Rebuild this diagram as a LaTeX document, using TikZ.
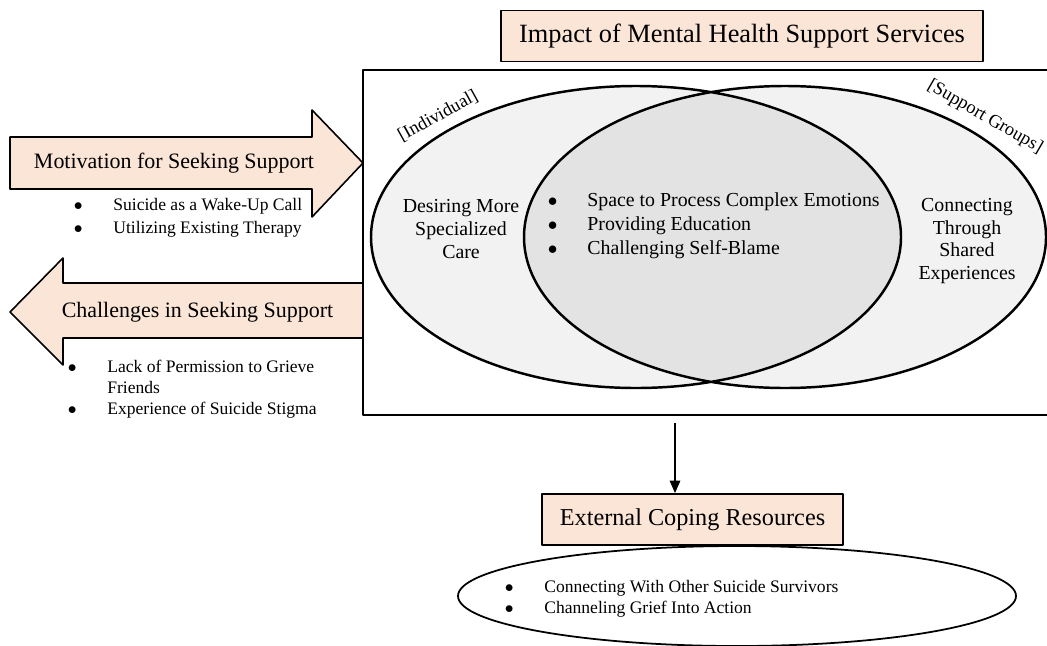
\documentclass[tikz,border=0pt]{standalone}
\usepackage{fontspec}
\setmainfont{Liberation Serif}
\usetikzlibrary{arrows.meta}
\definecolor{cam}{HTML}{FBE5D6}
\definecolor{xam}{HTML}{F2F2F2}
\definecolor{xamdam}{HTML}{E3E3E3}
\newcommand{\muc}[1]{\makebox[0.79cm][l]{$\bullet$}#1}
\begin{document}
\begin{tikzpicture}[>={Triangle[length=7pt,width=6pt]},line join=round,
	hop/.style={draw,line width=1.1pt,fill=cam,inner sep=0pt,minimum height=1.02cm},
	khoi/.style={draw,line width=0.9pt,fill=cam},
	chu/.style={inner sep=0pt,font=\fontsize{12.5}{15}\selectfont},
	ds/.style={anchor=base west,inner sep=0pt,font=\fontsize{10}{12}\selectfont},
	vung/.style={align=center,inner sep=0pt,font=\fontsize{11.3}{12.9}\selectfont},
	nhan/.style={inner sep=0pt,font=\fontsize{10.5}{12}\selectfont}]
	\useasboundingbox (0,0) rectangle (20.94,-12.9);
	\clip (0,0) rectangle (20.94,-12.9);
	\def\ry{3.02} % bán trục dọc hai elip
	% mũi tên khối
	\draw[khoi] (0.2,-2.74)--(6.24,-2.74)--(6.24,-2.2)--(7.26,-3.26)--(6.24,-4.34)--(6.24,-3.78)--(0.2,-3.78)--cycle;
	\draw[khoi] (7.26,-5.66)--(1.26,-5.66)--(1.26,-5.16)--(0.2,-6.24)--(1.26,-7.3)--(1.26,-6.76)--(7.26,-6.76)--cycle;
	\node[chu] (dongluc) at (3.48,-3.26) {Motivation for Seeking Support};
	\node[chu] (thachthuc) at (3.95,-6.24) {Challenges in Seeking Support};
	\node[ds] (dl1) at (1.47,-4.2) {\muc{Suicide as a Wake-Up Call}};
	\node[ds] (dl2) at (1.47,-4.66) {\muc{Utilizing Existing Therapy}};
	\node[ds] (tt1) at (1.35,-7.44) {\muc{Lack of Permission to Grieve}};
	\node[ds] (tt2) at (2.14,-7.86) {Friends};
	\node[ds] (tt3) at (1.35,-8.28) {\muc{Experience of Suicide Stigma}};
	% khung lớn + hai elip
	\draw[line width=1.1pt] (7.26,-1.4) rectangle (21.4,-8.3);
	\fill[xam] (12.72,-4.74) ellipse (5.3 and \ry) (15.7,-4.74) ellipse (5.22 and \ry);
	\begin{scope}
		\clip (12.72,-4.74) ellipse (5.3 and \ry);
		\fill[xamdam] (15.7,-4.74) ellipse (5.22 and \ry);
	\end{scope}
	\draw[line width=1.4pt] (12.72,-4.74) ellipse (5.3 and \ry) (15.7,-4.74) ellipse (5.22 and \ry);
	\node[nhan,rotate=29] (lbcanhan) at (8.76,-2.32) {[Individual]};
	\node[nhan,rotate=-30] (lbnhom) at (19.7,-2.34) {[Support Groups]};
	\node[vung] (canhan) at (9.22,-4.58) {Desiring More\\Specialized\\Care};
	\node[vung] (nhom) at (19.34,-4.82) {Connecting\\Through\\Shared\\Experiences};
	\node[ds,font=\fontsize{11.3}{13}\selectfont] (chung1) at (10.95,-4.12) {\muc{Space to Process Complex Emotions}};
	\node[ds,font=\fontsize{11.3}{13}\selectfont] (chung2) at (10.95,-4.6) {\muc{Providing Education}};
	\node[ds,font=\fontsize{11.3}{13}\selectfont] (chung3) at (10.95,-5.08) {\muc{Challenging Self-Blame}};
	\node[hop,minimum width=9.64cm,font=\fontsize{15}{18}\selectfont] (tacdong) at (14.84,-0.72) {Impact of Mental Health Support Services};
	% phía dưới
	\draw[line width=1pt,fill=white] (14.74,-11.92) ellipse (5.58 and 1);
	\node[hop,minimum width=6.02cm,font=\fontsize{13.8}{16}\selectfont] (ngoai) at (13.85,-10.39) {External Coping Resources};
	\coordinate (chan) at (13.5,-8.46);
	\draw[->,line width=0.6pt] (chan)--(chan |- ngoai.north);
	\node[ds] (ng1) at (10.09,-11.84) {\muc{Connecting With Other Suicide Survivors}};
	\node[ds] (ng2) at (10.09,-12.26) {\muc{Channeling Grief Into Action}};
\end{tikzpicture}
\end{document}
